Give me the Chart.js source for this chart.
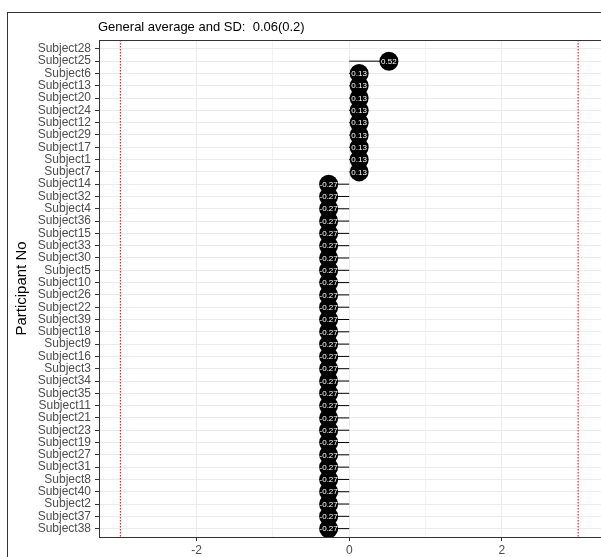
<!DOCTYPE html>
<html>
<head>
<meta charset="utf-8">
<script src="https://cdn.jsdelivr.net/npm/chart.js@4/dist/chart.umd.min.js"></script>
<style>
  html, body { margin: 0; padding: 0; background: #fff; overflow: hidden; }
  #wrap { width: 601px; height: 557px; position: relative; }
</style>
</head>
<body>
<div id="wrap"><canvas id="c" width="601" height="557"></canvas></div>
<script>
// Participants, top to bottom
const participants = [
  'Subject28', 'Subject25', 'Subject6', 'Subject13', 'Subject20', 'Subject24',
  'Subject12', 'Subject29', 'Subject17', 'Subject1', 'Subject7', 'Subject14',
  'Subject32', 'Subject4', 'Subject36', 'Subject15', 'Subject33', 'Subject30',
  'Subject5', 'Subject10', 'Subject26', 'Subject22', 'Subject39', 'Subject18',
  'Subject9', 'Subject16', 'Subject3', 'Subject34', 'Subject35', 'Subject11',
  'Subject21', 'Subject23', 'Subject19', 'Subject27', 'Subject31', 'Subject8',
  'Subject40', 'Subject2', 'Subject37', 'Subject38'
];

// Standardised score per participant (null = no value)
const scores = [
  null, 0.52, 0.13, 0.13, 0.13, 0.13,
  0.13, 0.13, 0.13, 0.13, 0.13, -0.27,
  -0.27, -0.27, -0.27, -0.27, -0.27, -0.27,
  -0.27, -0.27, -0.27, -0.27, -0.27, -0.27,
  -0.27, -0.27, -0.27, -0.27, -0.27, -0.27,
  -0.27, -0.27, -0.27, -0.27, -0.27, -0.27,
  -0.27, -0.27, -0.27, -0.27
];

// Cut-off lines and x axis ticks
const cutoffs = [-3, 3];
const xGridValues = [-3, -2, -1, 0, 1, 2, 3];
const xTickLabels = [-2, 0, 2];

const titleText = 'General average and SD:  0.06(0.2)';
const yTitleText = 'Participant No';

const FONT = "'Liberation Sans', Arial, Helvetica, sans-serif";
const TICK_GREY = '#4d4d4d';
const DARK = '#333333';
const GRID = '#ebebeb';
const GRID_MINOR = '#f2f2f2';

const Y_MIN = -0.72, Y_MAX = participants.length - 1 + 0.68;

// Segments from zero to each score, separated by gaps
const segmentData = [];
scores.forEach((v, i) => {
  if (v === null) return;
  segmentData.push({ x: 0, y: i }, { x: v, y: i }, { x: NaN, y: NaN });
});

const pointData = [];
scores.forEach((v, i) => {
  if (v !== null) pointData.push({ x: v, y: i });
});

const cutoffSets = cutoffs.map(c => ({
  type: 'line',
  data: [{ x: c, y: Y_MIN }, { x: c, y: Y_MAX }],
  borderColor: '#ff0000',
  borderWidth: 1,
  borderDash: [1.5, 1.5],
  pointRadius: 0,
  fill: false,
  order: 3
}));

const framePlugin = {
  id: 'frame',
  beforeDraw(chart) {
    const ctx = chart.ctx;
    ctx.save();
    ctx.fillStyle = '#ffffff';
    ctx.fillRect(0, 0, chart.width, chart.height);
    // outer figure frame
    ctx.strokeStyle = DARK;
    ctx.lineWidth = 1;
    ctx.strokeRect(7.5, 12.5, 800, 800);
    ctx.restore();
  },
  afterDraw(chart) {
    const ctx = chart.ctx;
    const a = chart.chartArea;
    ctx.save();
    // panel top border
    ctx.strokeStyle = DARK;
    ctx.lineWidth = 1;
    ctx.beginPath();
    ctx.moveTo(a.left, Math.round(a.top) + 0.5);
    ctx.lineTo(a.right, Math.round(a.top) + 0.5);
    ctx.stroke();
    // plot title
    ctx.fillStyle = '#000000';
    ctx.font = `13px ${FONT}`;
    ctx.textAlign = 'left';
    ctx.textBaseline = 'middle';
    ctx.fillText(titleText, a.left - 1, 27.5);
    ctx.restore();
  }
};

const valueLabelPlugin = {
  id: 'valueLabels',
  afterDatasetsDraw(chart) {
    const ctx = chart.ctx;
    const idx = chart.data.datasets.findIndex(d => d.label === 'scores');
    const meta = chart.getDatasetMeta(idx);
    const ds = chart.data.datasets[idx];
    ctx.save();
    ctx.fillStyle = '#ffffff';
    ctx.font = `8px ${FONT}`;
    ctx.textAlign = 'center';
    ctx.textBaseline = 'middle';
    meta.data.forEach((el, i) => {
      ctx.fillText(ds.data[i].x.toFixed(2), el.x, el.y + 0.5);
    });
    ctx.restore();
  }
};

new Chart(document.getElementById('c'), {
  data: {
    datasets: [
      ...cutoffSets,
      {
        type: 'line',
        label: 'segments',
        data: segmentData,
        borderColor: '#000000',
        borderWidth: 1,
        pointRadius: 0,
        spanGaps: false,
        fill: false,
        order: 2
      },
      {
        type: 'scatter',
        label: 'scores',
        data: pointData,
        backgroundColor: '#000000',
        borderWidth: 0,
        pointRadius: 9.5,
        order: 1
      }
    ]
  },
  options: {
    responsive: false,
    animation: false,
    devicePixelRatio: 1,
    layout: { autoPadding: false, padding: { top: 40, left: 0, right: 0, bottom: 0 } },
    plugins: {
      legend: { display: false },
      tooltip: { enabled: false },
      title: { display: false }
    },
    scales: {
      x: {
        type: 'linear',
        min: -3.28,
        max: 3.30,
        afterFit(s) { s.height = 20; s.paddingLeft = 0; s.paddingRight = 0; },
        afterBuildTicks(s) { s.ticks = xGridValues.map(v => ({ value: v })); },
        ticks: {
          autoSkip: false,
          maxRotation: 0,
          padding: 2,
          color: TICK_GREY,
          font: { family: FONT, size: 12 },
          callback: v => (xTickLabels.includes(v) ? String(v) : '')
        },
        grid: {
          color: c => (c.tick && xTickLabels.includes(c.tick.value) ? GRID : GRID_MINOR),
          tickColor: c => (c.tick && xTickLabels.includes(c.tick.value) ? DARK : 'rgba(0,0,0,0)'),
          tickLength: 4,
          lineWidth: 1
        },
        border: { color: DARK, width: 1 }
      },
      y: {
        type: 'linear',
        reverse: true,
        min: Y_MIN,
        max: Y_MAX,
        afterFit(s) { s.width = 99; s.paddingTop = 0; s.paddingBottom = 0; },
        afterBuildTicks(s) { s.ticks = participants.map((_, i) => ({ value: i })); },
        ticks: {
          autoSkip: false,
          padding: 4,
          color: TICK_GREY,
          font: { family: FONT, size: 12 },
          callback: v => participants[v]
        },
        grid: {
          color: GRID,
          tickColor: DARK,
          tickLength: 4,
          lineWidth: 1
        },
        border: { color: DARK, width: 1 },
        title: {
          display: true,
          text: yTitleText,
          color: '#000000',
          font: { family: FONT, size: 15 },
          padding: { top: 13, bottom: 0 }
        }
      }
    }
  },
  plugins: [framePlugin, valueLabelPlugin]
});
</script>
</body>
</html>
